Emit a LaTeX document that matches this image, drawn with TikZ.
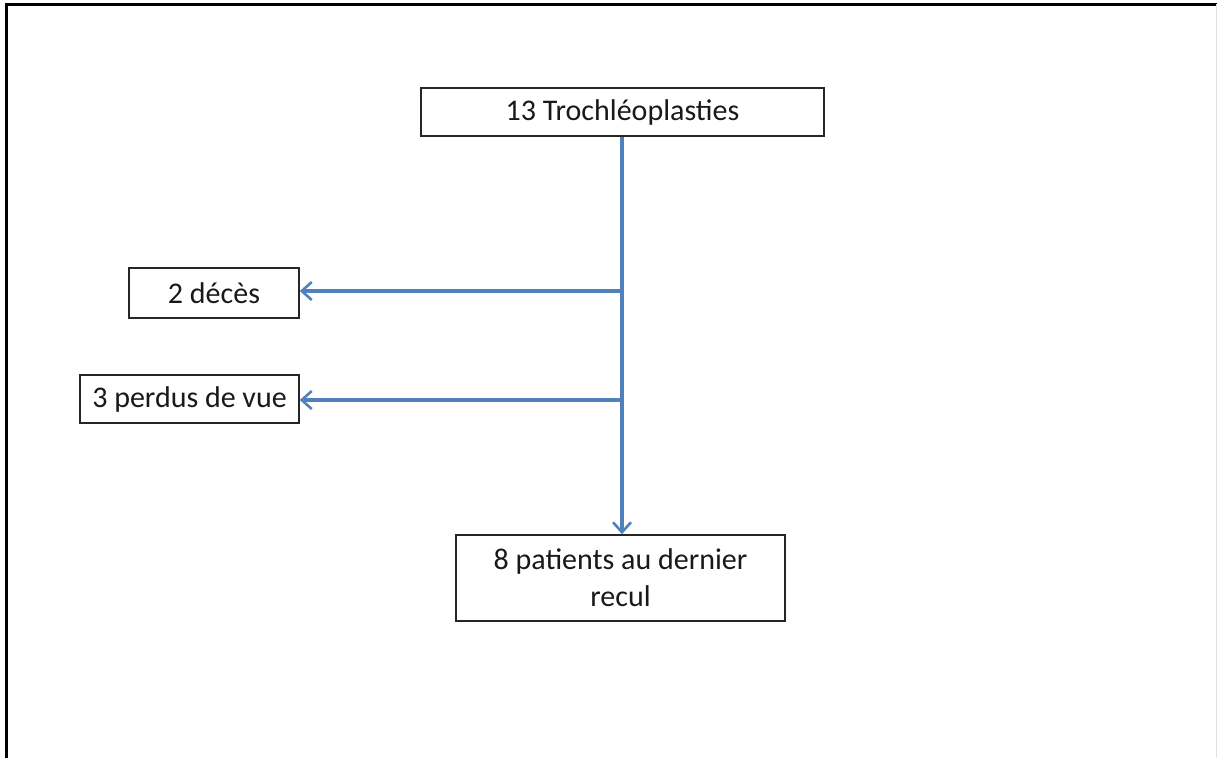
\documentclass[tikz,border=0pt]{standalone}
\usepackage{fontspec}
\setmainfont{Carlito}
\usetikzlibrary{arrows.meta}
\definecolor{flowblue}{RGB}{79,129,189}
\begin{document}
\begin{tikzpicture}[x=1pt,y=-1pt,
  box/.style={draw=black!85,line width=1.6pt,fill=white,inner sep=0pt,
    font=\fontsize{30}{37}\selectfont,align=center,text=black!90},
  flow/.style={draw=flowblue,line width=3.4pt,-{Straight Barb[length=10pt,width=18pt,line width=2.6pt]}}]
  \useasboundingbox (0,0) rectangle (1217,758);
  % page frame
  \draw[line width=3pt,black] (6,758) -- (6,4) -- (1217,4);
  \draw[line width=1pt,black!12] (1216,4) -- (1216,758);
  % boxes
  \node[box,minimum width=403pt,minimum height=48pt] (top) at (622.5,112) {13 Trochléoplasties};
  \node[box,minimum width=170pt,minimum height=50pt] (dec) at (214,293) {2 décès};
  \node[box,minimum width=219pt,minimum height=48pt] (lost) at (189.5,399) {3 perdus de vue};
  \node[box,minimum width=329pt,minimum height=86pt] (fin) at (620.5,578) {8 patients au dernier\\recul};
  % branch points on the trunk
  \coordinate (b1) at (622,291);
  \coordinate (b2) at (622,400);
  % connectors
  \draw[flow] (top.south -| b1) -- (fin.north -| b1);
  \draw[flow] (b1) -- (dec.east |- b1);
  \draw[flow] (b2) -- (lost.east |- b2);
\end{tikzpicture}
\end{document}
